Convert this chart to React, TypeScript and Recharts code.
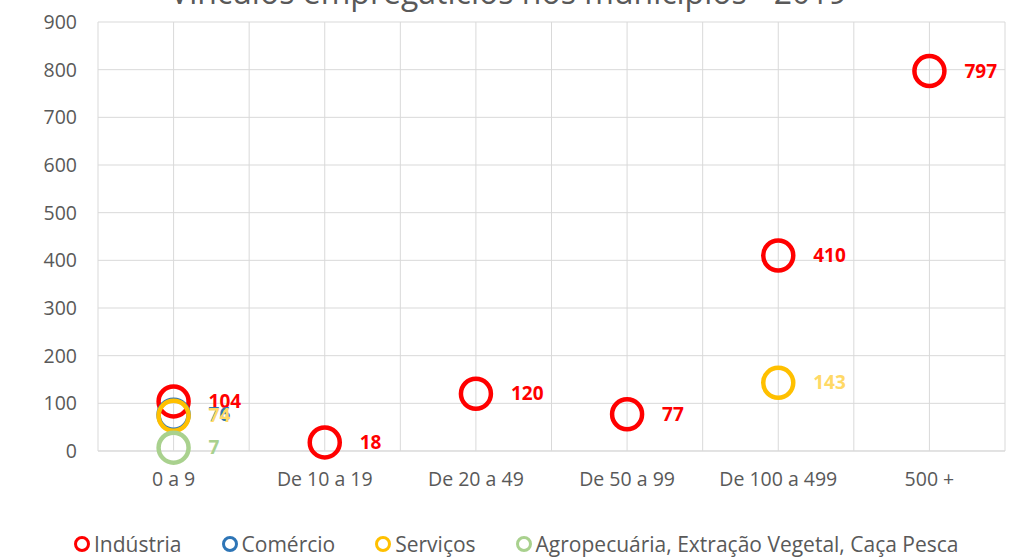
import React from "react";
import {
  ScatterChart,
  Scatter,
  XAxis,
  YAxis,
  CartesianGrid,
} from "recharts";

const categories = [
  "0 a 9",
  "De 10 a 19",
  "De 20 a 49",
  "De 50 a 99",
  "De 100 a 499",
  "500 +",
];
const industria = [104, 18, 120, 77, 410, 797];
const comercio = [76, null, null, null, null, null];
const servicos = [74, null, null, null, 143, null];
const agropecuaria = [7, null, null, null, null, null];
const yTicks = [0, 100, 200, 300, 400, 500, 600, 700, 800, 900];

const series = [
  { name: "Indústria", values: industria, color: "#FF0000", label: "#FF0000" },
  { name: "Comércio", values: comercio, color: "#2E75B6", label: "#2E75B6" },
  { name: "Serviços", values: servicos, color: "#FFC000", label: "#FFD966" },
  {
    name: "Agropecuária, Extração Vegetal, Caça Pesca",
    values: agropecuaria,
    color: "#A9D18E",
    label: "#A9D18E",
  },
];

const toPoints = (values: (number | null)[]) =>
  values
    .map((v, i) => (v == null ? null : { x: i, y: v }))
    .filter((p) => p != null);

const xTicks = [-0.5, 0, 0.5, 1, 1.5, 2, 2.5, 3, 3.5, 4, 4.5, 5, 5.5];
const font = "'Open Sans', sans-serif";

const makeShape = (color: string, labelColor: string) => (props: any) => {
  const { cx, cy, payload } = props;
  return (
    <g>
      <circle cx={cx} cy={cy} r={15} fill="none" stroke={color} strokeWidth={4.5} />
      <text
        x={cx + 35}
        y={cy}
        dy="0.35em"
        fill={labelColor}
        fontWeight="bold"
        fontSize={19}
        fontFamily={font}
      >
        {payload.y}
      </text>
    </g>
  );
};

const App = () => {
  return (
    <div
      style={{
        position: "absolute",
        left: 0,
        top: 0,
        width: 1027,
        height: 558,
        overflow: "hidden",
        background: "#fff",
        fontFamily: font,
      }}
    >
      <div
        style={{
          position: "absolute",
          top: -30,
          left: 0,
          width: 1017,
          textAlign: "center",
          fontSize: 32,
          color: "#595959",
        }}
      >
        Vínculos empregatícios nos municípios - 2019
      </div>
      <ScatterChart
        width={1027}
        height={558}
        margin={{ top: 22, right: 22, bottom: 67, left: 0 }}
      >
        <CartesianGrid stroke="#D9D9D9" />
        <XAxis
          type="number"
          dataKey="x"
          domain={[-0.5, 5.5]}
          ticks={xTicks}
          interval={0}
          tickFormatter={(v: number) =>
            Number.isInteger(v) ? categories[v] : ""
          }
          tickLine={false}
          tickSize={0}
          tickMargin={21}
          axisLine={{ stroke: "#D9D9D9" }}
          height={40}
          tick={{ fill: "#595959", fontSize: 19.5, fontFamily: font }}
        />
        <YAxis
          type="number"
          dataKey="y"
          domain={[0, 900]}
          ticks={yTicks}
          axisLine={false}
          tickLine={false}
          tickSize={0}
          tickMargin={21}
          width={98}
          tick={{ fill: "#595959", fontSize: 19.5, fontFamily: font }}
        />
        {series.map((s) => (
          <Scatter
            key={s.name}
            name={s.name}
            data={toPoints(s.values)}
            shape={makeShape(s.color, s.label)}
            isAnimationActive={false}
          />
        ))}
      </ScatterChart>
      <div
        style={{
          position: "absolute",
          top: 532,
          left: 74,
          display: "flex",
          fontSize: 21,
          lineHeight: "24px",
          color: "#595959",
          gap: 40,
        }}
      >
        {series.map((s) => (
          <div key={s.name} style={{ display: "flex", alignItems: "center" }}>
            <span
              style={{
                display: "inline-block",
                width: 10,
                height: 10,
                borderRadius: "50%",
                border: `3.5px solid ${s.color}`,
                marginRight: 4,
              }}
            />
            {s.name}
          </div>
        ))}
      </div>
    </div>
  );
};

export default App;
